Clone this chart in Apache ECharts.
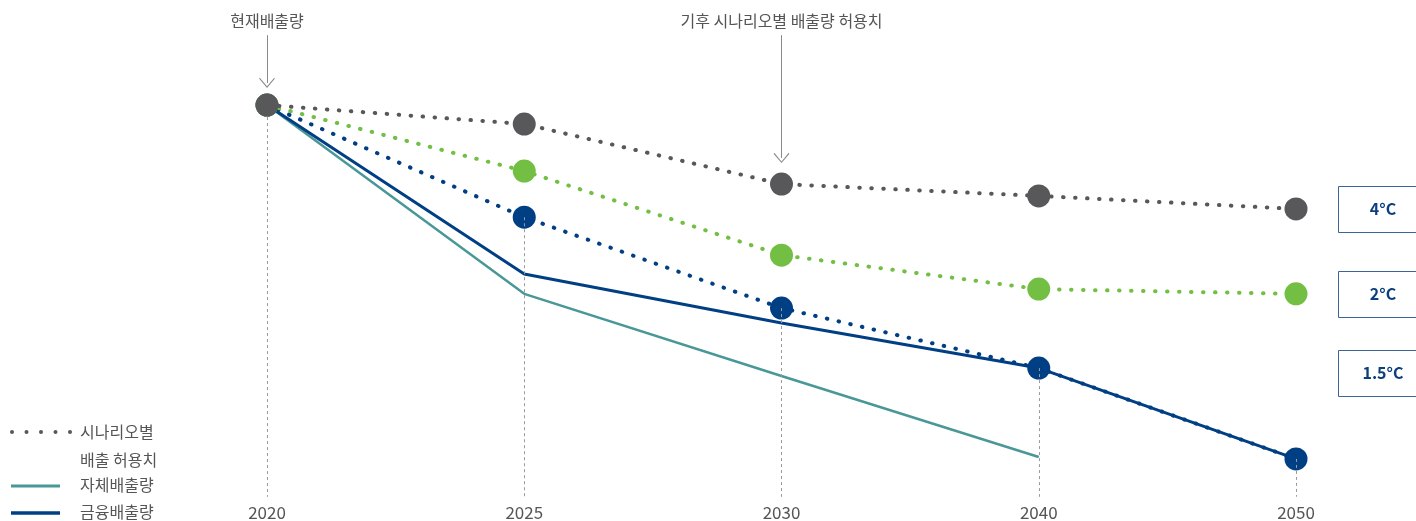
<!DOCTYPE html>
<html>
<head>
<meta charset="utf-8">
<script src="https://cdn.jsdelivr.net/npm/echarts@6/dist/echarts.min.js"></script>
<style>
  html, body { margin: 0; padding: 0; background: #fff; }
  #chart { width: 1416px; height: 521px; }
</style>
</head>
<body>
<div id="chart"></div>
<script>
    // 연도 (x축)
    var years = ['2020', '2025', '2030', '2040', '2050'];
    // 시나리오별 배출 허용치 (2020 = 100)
    var scen4 = [100, 95.2, 80.0, 77.0, 73.7];
    var scen2 = [100, 83.3, 62.0, 53.4, 52.2];
    var scen15 = [100, 71.6, 48.6, 33.4, 10.4];
    // 실제 배출량
    var ownEmission = [100, 52.2, 31.4, 10.9, null];
    var financedEmission = [100, 57.2, 44.8, 33.4, 10.4];
    var scenarioLabels = ['4°C', '2°C', '1.5°C'];
    var notes = [{ idx: 0, text: '현재배출량', from: 117.7, to: 105.6 },
                 { idx: 2, text: '기후 시나리오별 배출량 허용치', from: 117.7, to: 86.6 }];

    var FONT = 'Noto Sans CJK KR';
    var GRAY = '#58585a', GREEN = '#72bf44', NAVY = '#003f84', TEAL = '#4a9797';
    var chevron = 'path://M0,10 L8,0 L16,10 L15,10.7 L8,1.7 L1,10.7 Z';

    var chart = echarts.init(document.getElementById('chart'));

    function dotted(name, data, color, z) {
        return {
            name: name, type: 'line', data: data, z: z,
            symbol: 'circle', symbolSize: 23,
            itemStyle: { color: color },
            lineStyle: { color: color, width: 4, type: [0.5, 11.5], cap: 'round' }
        };
    }

    var guideData = scen15.map(function (v, i) {
        return [{ coord: [i, v] }, { coord: [i, 0.8] }];
    });
    var noteData = notes.map(function (n) {
        return [{ coord: [n.idx, n.from], label: { formatter: n.text } }, { coord: [n.idx, n.to] }];
    });

    // 우측 시나리오 박스 + 범례
    var boxTops = [186, 271, 350];
    var graphics = [];
    scenarioLabels.forEach(function (t, i) {
        graphics.push({ type: 'rect', left: 1338, top: boxTops[i], z: 10,
            shape: { width: 100, height: 46 },
            style: { fill: '#fff', stroke: '#3a6496', lineWidth: 1 } });
        graphics.push({ type: 'text', x: 1383, y: boxTops[i] + 23, z: 11,
            style: { text: t, align: 'center', verticalAlign: 'middle',
                     font: 'bold 16px "' + FONT + '"', fill: '#0d3f7f' } });
    });
    [12, 26.5, 41, 55.5, 70].forEach(function (x) {
        graphics.push({ type: 'circle', shape: { cx: x, cy: 432, r: 2 }, style: { fill: GRAY } });
    });
    graphics.push({ type: 'line', shape: { x1: 11, y1: 486, x2: 60, y2: 486 }, style: { stroke: TEAL, lineWidth: 3 } });
    graphics.push({ type: 'line', shape: { x1: 11, y1: 513, x2: 60, y2: 513 }, style: { stroke: NAVY, lineWidth: 3.5 } });
    [['시나리오별', 432], ['배출 허용치', 460], ['자체배출량', 485], ['금융배출량', 512]].forEach(function (l) {
        graphics.push({ type: 'text', x: 80, y: l[1],
            style: { text: l[0], verticalAlign: 'middle', font: '16px "' + FONT + '"', fill: '#555' } });
    });

    chart.setOption({
        animation: false,
        grid: { left: 267, right: 120, top: 0, bottom: 21 },
        xAxis: {
            type: 'category', data: years, boundaryGap: false,
            axisLine: { show: false }, axisTick: { show: false }, splitLine: { show: false },
            axisLabel: { margin: 4, fontSize: 17, fontFamily: FONT, color: '#555' }
        },
        yAxis: { type: 'value', min: 0, max: 126.6, show: false, splitLine: { show: false } },
        graphic: graphics,
        series: [
            {
                name: 'guide', type: 'line', data: [], z: 1,
                markLine: {
                    silent: true, symbol: ['none', 'none'], label: { show: false },
                    lineStyle: { color: '#9a9a9a', width: 1, type: [3, 3] },
                    data: guideData
                }
            },
            {
                name: '자체배출량', type: 'line', data: ownEmission, z: 2, symbol: 'none',
                lineStyle: { color: TEAL, width: 2.5 }
            },
            {
                name: '금융배출량', type: 'line', data: financedEmission, z: 3, symbol: 'none',
                lineStyle: { color: NAVY, width: 3 }
            },
            dotted('1.5°C', scen15, NAVY, 4),
            dotted('2°C', scen2, GREEN, 5),
            (function () {
                var s = dotted('4°C', scen4, GRAY, 6);
                s.markLine = {
                    silent: true, symbol: ['none', chevron], symbolSize: [16, 10],
                    lineStyle: { color: '#8a8a8a', width: 1, type: 'solid' },
                    label: { position: 'start', distance: 6, fontSize: 16, fontFamily: FONT, color: '#555' },
                    data: noteData
                };
                return s;
            })()
        ]
    });
</script>
</body>
</html>
